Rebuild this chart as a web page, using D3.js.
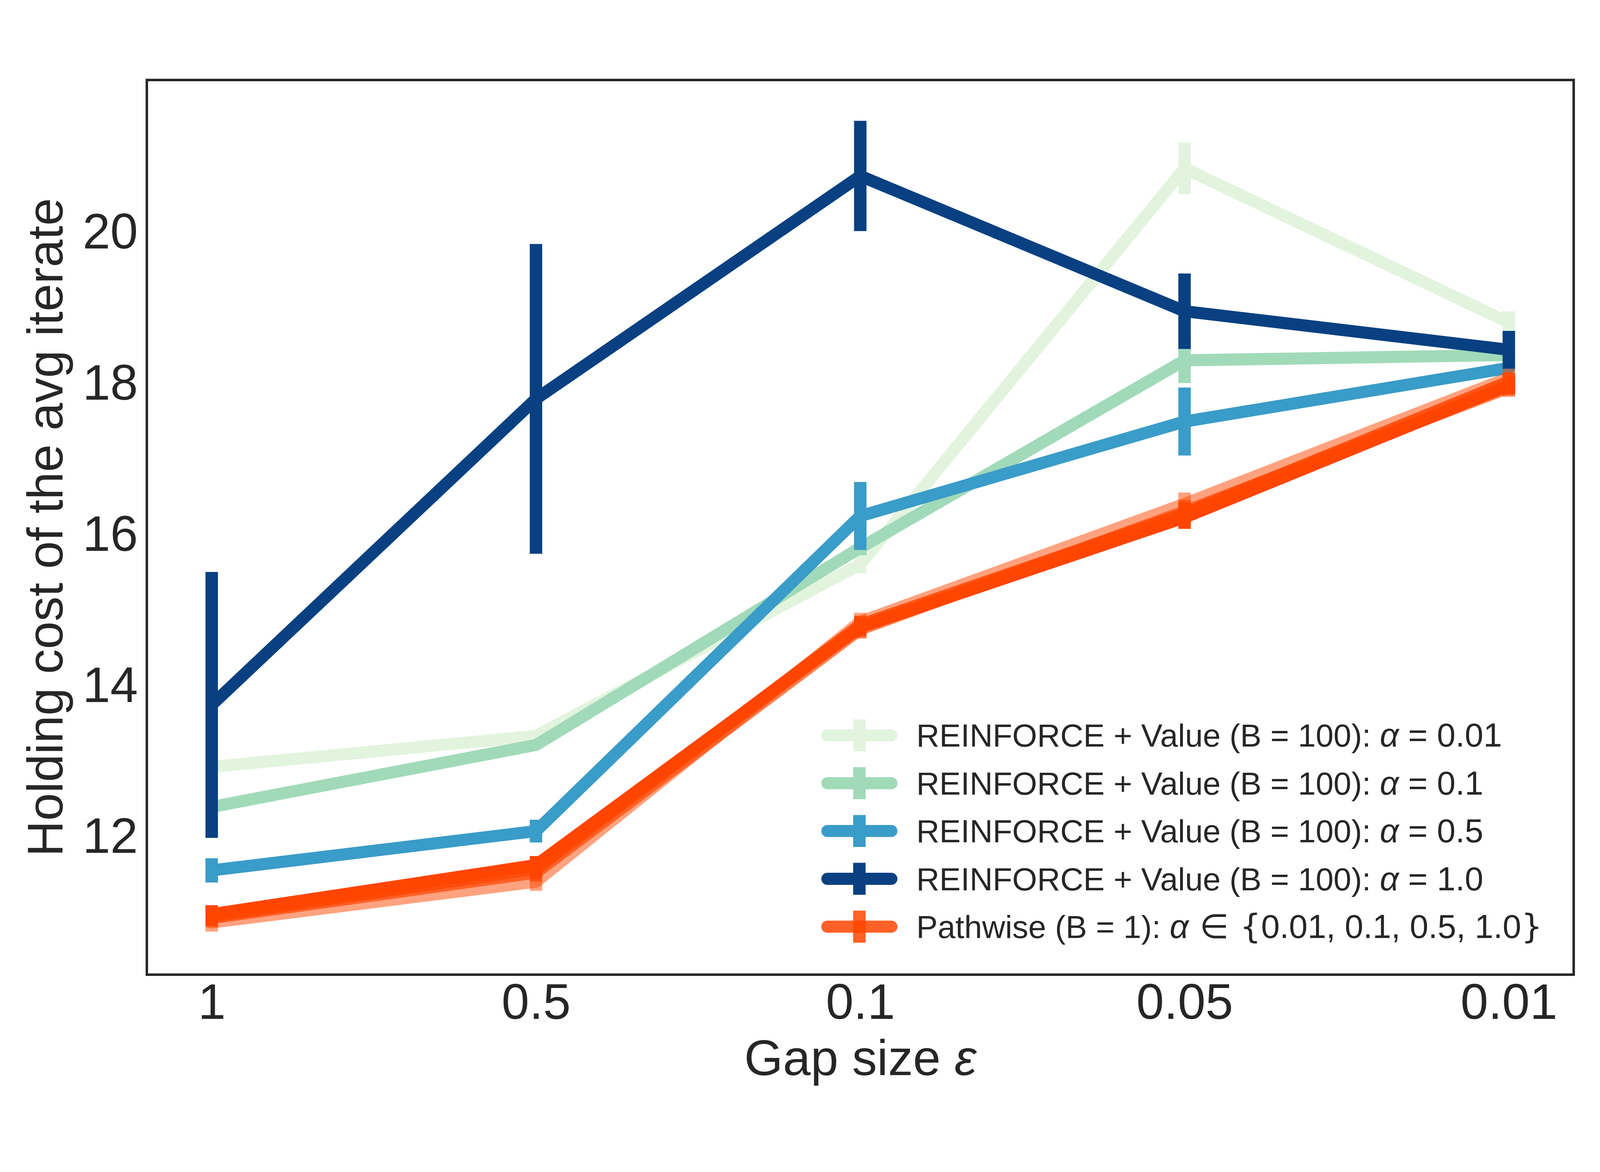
<!DOCTYPE html>
<html>
<head>
<meta charset="utf-8">
<script src="https://cdn.jsdelivr.net/npm/d3@7"></script>
<style>
  html, body { margin: 0; padding: 0; background: #fff; overflow: hidden; }
  svg { display: block; }
</style>
</head>
<body>
<div id="chart"></div>
<script>
// x categories (gap size) and y ticks
const gapLabels = ["1", "0.5", "0.1", "0.05", "0.01"];
const yTicks = [12, 14, 16, 18, 20];

// REINFORCE + Value (B = 100): mean and error per alpha
const rfMean001 = [12.90, 13.31, 15.58, 20.82, 18.78];
const rfErr001  = [0.03, 0.05, 0.12, 0.34, 0.15];
const rfMean01  = [12.37, 13.19, 15.80, 18.28, 18.35];
const rfErr01   = [0.03, 0.05, 0.10, 0.30, 0.05];
const rfMean05  = [11.53, 12.05, 16.22, 17.47, 18.18];
const rfErr05   = [0.16, 0.15, 0.45, 0.45, 0.05];
const rfMean10  = [13.72, 17.77, 20.72, 18.93, 18.42];
const rfErr10   = [1.76, 2.05, 0.73, 0.50, 0.25];

// Pathwise (B = 1): one line per alpha
const pwMean001 = [10.84, 11.38, 14.82, 16.38, 18.05];
const pwMean01  = [10.90, 11.50, 14.72, 16.28, 17.92];
const pwMean05  = [10.92, 11.55, 14.78, 16.25, 18.00];
const pwMean10  = [10.95, 11.60, 14.75, 16.20, 17.95];
const pwErr     = [0.12, 0.12, 0.12, 0.15, 0.12];

// legend parts: 0 plain text, 1 math roman, 2 math italic, 3 math symbol
const legendLabels = [
  [["REINFORCE + Value (B = 100): ", 0], ["α", 2], [" = 0.01", 1]],
  [["REINFORCE + Value (B = 100): ", 0], ["α", 2], [" = 0.1", 1]],
  [["REINFORCE + Value (B = 100): ", 0], ["α", 2], [" = 0.5", 1]],
  [["REINFORCE + Value (B = 100): ", 0], ["α", 2], [" = 1.0", 1]],
  [["Pathwise (B = 1): ", 0], ["α", 2], ["\u2004∈\u2004{", 3], ["0.01, 0.1, 0.5, 1.0", 1], ["}", 3]]
];

const series = [
  { mean: rfMean001, err: rfErr001, color: "#e3f4de", opacity: 1 },
  { mean: rfMean01,  err: rfErr01,  color: "#a1dab9", opacity: 1 },
  { mean: rfMean05,  err: rfErr05,  color: "#3a9cc8", opacity: 1 },
  { mean: rfMean10,  err: rfErr10,  color: "#084081", opacity: 1 },
  { mean: pwMean001, err: pwErr,    color: "#ff4500", opacity: 0.5 },
  { mean: pwMean01,  err: pwErr,    color: "#ff4500", opacity: 0.7 },
  { mean: pwMean05,  err: pwErr,    color: "#ff4500", opacity: 0.85 },
  { mean: pwMean10,  err: pwErr,    color: "#ff4500", opacity: 1 }
];
const legendStyle = [
  { color: "#e3f4de", opacity: 1 },
  { color: "#a1dab9", opacity: 1 },
  { color: "#3a9cc8", opacity: 1 },
  { color: "#084081", opacity: 1 },
  { color: "#ff4500", opacity: 0.85 }
];

const W = 4500, H = 3000;
const mLeft = 413, mRight = 4426, mTop = 77, mBottom = 2593;
const lineW = 34, barW = 35;
const textColor = "#262626";
const sans = "'Liberation Sans', Arial, sans-serif";
const symFont = "'DejaVu Sans', sans-serif";

// scale the whole drawing to whatever viewport the page gets
const svg = d3.select("#chart").append("svg")
    .attr("viewBox", `0 0 ${W} ${H}`)
    .attr("preserveAspectRatio", "xMidYMid meet")
    .style("width", "100vw")
    .style("height", "100vh")
    .style("background", "#fff");

const x = d3.scaleLinear().domain([-0.2, gapLabels.length - 1 + 0.2]).range([mLeft, mRight]);
const y = d3.scaleLinear().domain([10.15, 21.99]).range([mBottom, mTop]);

const line = d3.line()
    .x((d, i) => x(i))
    .y(d => y(d));

const plot = svg.append("g");

series.forEach(s => {
  const g = plot.append("g");
  // error bars
  g.selectAll("line")
    .data(s.mean)
    .enter()
    .append("line")
      .attr("x1", (d, i) => x(i))
      .attr("x2", (d, i) => x(i))
      .attr("y1", (d, i) => y(d - s.err[i]))
      .attr("y2", (d, i) => y(d + s.err[i]))
      .attr("stroke", s.color)
      .attr("stroke-opacity", s.opacity)
      .attr("stroke-width", barW);
  // mean line
  g.append("path")
    .attr("d", line(s.mean))
    .attr("fill", "none")
    .attr("stroke", s.color)
    .attr("stroke-opacity", s.opacity)
    .attr("stroke-width", lineW)
    .attr("stroke-linecap", "round")
    .attr("stroke-linejoin", "round");
});

// frame
svg.append("rect")
    .attr("x", mLeft)
    .attr("y", mTop)
    .attr("width", mRight - mLeft)
    .attr("height", mBottom - mTop)
    .attr("fill", "none")
    .attr("stroke", textColor)
    .attr("stroke-width", 7);

// axes (labels only, no tick marks)
const xAxis = d3.axisBottom(x)
    .tickValues(d3.range(gapLabels.length))
    .tickFormat(i => gapLabels[i])
    .tickSize(0)
    .tickPadding(0);
const gx = svg.append("g")
    .attr("transform", `translate(0,${mBottom})`)
    .call(xAxis);
gx.select(".domain").remove();
gx.selectAll("text")
    .attr("y", 2717 - mBottom)
    .attr("dy", null)
    .style("font-family", sans)
    .style("font-size", "140px")
    .attr("fill", textColor);

const yAxis = d3.axisLeft(y)
    .tickValues(yTicks)
    .tickFormat(d3.format("d"))
    .tickSize(0)
    .tickPadding(25);
const gy = svg.append("g")
    .attr("transform", `translate(${mLeft},0)`)
    .call(yAxis);
gy.select(".domain").remove();
gy.selectAll("text")
    .attr("dy", "0.36em")
    .style("font-family", sans)
    .style("font-size", "140px")
    .attr("fill", textColor);

// axis titles
const xt = svg.append("text")
    .attr("x", (mLeft + mRight) / 2)
    .attr("y", 2876)
    .attr("text-anchor", "middle")
    .attr("fill", textColor)
    .style("font-family", sans)
    .style("font-size", "140px");
xt.append("tspan").text("Gap size ");
xt.append("tspan").text("ε").style("font-style", "italic");

svg.append("text")
    .attr("transform", `translate(176,${(mTop + mBottom) / 2}) rotate(-90)`)
    .attr("text-anchor", "middle")
    .attr("fill", textColor)
    .style("font-family", sans)
    .style("font-size", "140px")
    .text("Holding cost of the avg iterate");

// legend
const legend = svg.append("g");
const rowY0 = 1920, rowStep = 134.5;
const handleX1 = 2327, handleX2 = 2507, handleXm = 2417, textX = 2577;

legendLabels.forEach((parts, i) => {
  const cy = rowY0 + i * rowStep;
  const st = legendStyle[i];
  const row = legend.append("g");
  row.append("line")
    .attr("x1", handleX1).attr("x2", handleX2)
    .attr("y1", cy).attr("y2", cy)
    .attr("stroke", st.color)
    .attr("stroke-opacity", st.opacity)
    .attr("stroke-width", lineW)
    .attr("stroke-linecap", "round");
  row.append("line")
    .attr("x1", handleXm).attr("x2", handleXm)
    .attr("y1", cy - 45).attr("y2", cy + 45)
    .attr("stroke", st.color)
    .attr("stroke-opacity", st.opacity)
    .attr("stroke-width", barW);
  const t = row.append("text")
    .attr("x", textX)
    .attr("y", cy)
    .attr("dy", "32")
    .attr("fill", textColor)
    .style("font-family", sans)
    .style("font-size", "90px")
    .style("white-space", "pre");
  parts.forEach(([s, kind]) => {
    t.append("tspan")
      .text(s)
      .style("font-family", kind === 3 ? symFont : sans)
      .style("font-size", kind === 0 ? "90px" : "94px")
      .style("font-style", kind === 2 ? "italic" : "normal");
  });
});
</script>
</body>
</html>
